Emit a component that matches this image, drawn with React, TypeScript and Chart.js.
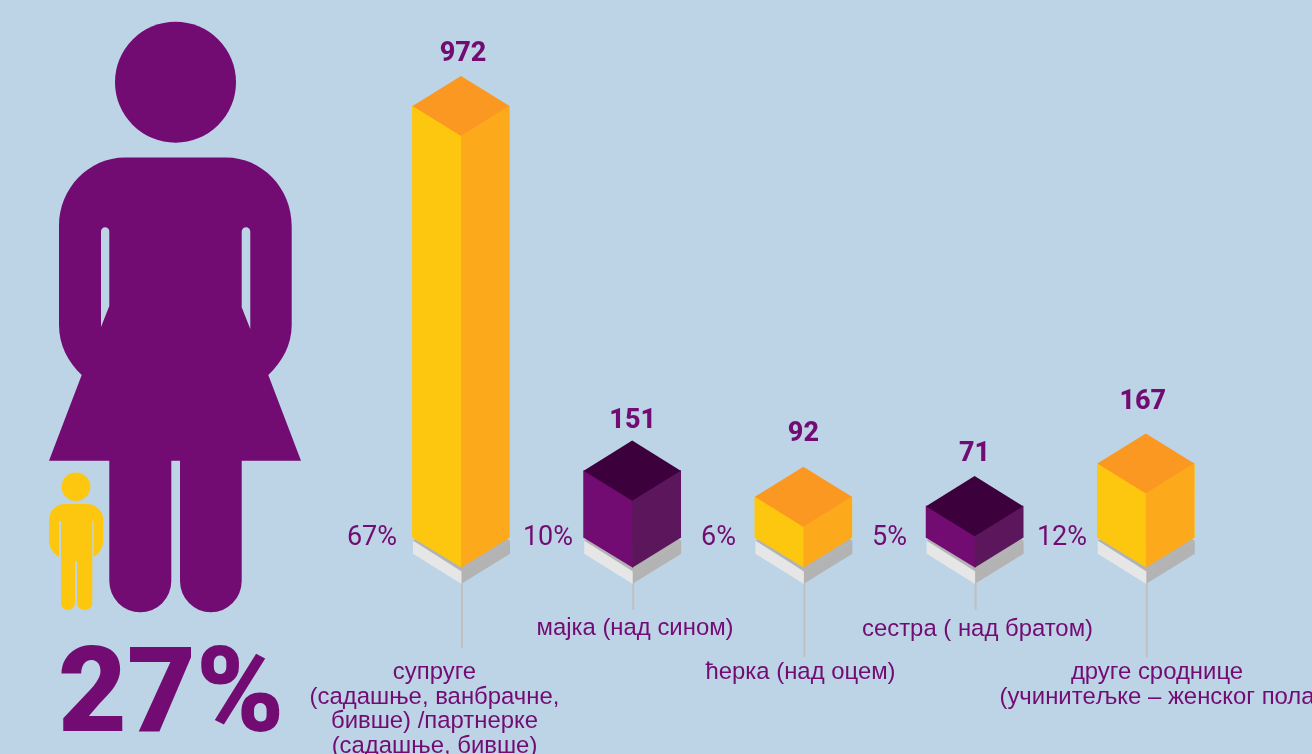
import React, { useEffect, useRef } from "react";
import { Chart, registerables } from "chart.js";

Chart.register(...registerables);

const categories = ["супруге", "мајка", "ћерка", "сестра", "друге сроднице"];
const counts = [972, 151, 92, 71, 167];
const percents = ["67%", "10%", "6%", "5%", "12%"];
const tones = ["amber", "plum", "amber", "plum", "amber"];
const categoryLines = [
  ["супруге", "(садашње, ванбрачне,", "бивше) /партнерке", "(садашње, бивше)"],
  ["мајка (над сином)"],
  ["ћерка (над оцем)"],
  ["сестра ( над братом)"],
  ["друге сроднице", "(учинитељке – женског пола)"],
];
const headline = "27%";

const palette: Record<string, { left: string; right: string; top: string }> = {
  amber: { left: "#FDC70F", right: "#FDA91C", top: "#FB9821" },
  plum: { left: "#720B72", right: "#5B165C", top: "#3C003C" },
};
const INK = "#720B72";
const BG = "#BDD4E7";

// label placement (layout only)
const valueLabelLift = [15, 13, 26, 15, 24];
const valueLabelShift = [2, 0.5, 0, 0, -3];
const pctRight = [397, 573, 736, 907, 1087];
const stemEnd = [648, 610, 657, 610, 657];
const catCenter = [434.5, 635, 800.5, 977.5, 1157];
const catBaseline = [679, 635, 679, 636, 679];
const catLineShift = [[0, 0, 0, 0], [0], [0], [0], [0, 4]];

const womanBody = new Path2D(
  "M125 157.5 H226 C262 157.5 291.7 188 291.7 226 V325 C291.7 345 282 362 268.3 375 L301 460.7 H241.7 V581 A30.85 31.3 0 0 1 180 581 V460.7 H171.3 V581 A31 31.3 0 0 1 109.3 581 V460.7 H49 L81.7 375 C68 362 59 345 59 325 V226 C59 188 89 157.5 125 157.5 Z" +
    " M101 231.5 V327 L109.3 306 V231.5 A4.15 4.15 0 0 0 101 231.5 Z" +
    " M241.7 231.5 V307.3 L250.3 329 V231.5 A4.3 4.3 0 0 0 241.7 231.5 Z"
);
const childBody = new Path2D(
  "M65 504 H87 C96 504 103.3 511 103.3 520 V540 C103.3 548 99 554 93.7 556.7 V521 H92.3 V603 A7.6 7 0 0 1 77 603 V561 H75 V603 A7 7 0 0 1 61 603 V521 H59 V556.7 C53.5 554 49 548 49 540 V520 C49 511 56 504 65 504 Z"
);

function poly(ctx: CanvasRenderingContext2D, pts: number[][], fill: string) {
  ctx.beginPath();
  pts.forEach((p, i) => (i ? ctx.lineTo(p[0], p[1]) : ctx.moveTo(p[0], p[1])));
  ctx.closePath();
  ctx.fillStyle = fill;
  ctx.fill();
}

const isoBarsPlugin = {
  id: "isoBars",
  beforeDatasetsDraw(chart: any) {
    const ctx: CanvasRenderingContext2D = chart.ctx;
    ctx.save();
    // pictograms
    ctx.fillStyle = INK;
    ctx.beginPath();
    ctx.arc(175.5, 82.2, 60.5, 0, Math.PI * 2);
    ctx.fill();
    ctx.fill(womanBody, "evenodd");
    ctx.fillStyle = palette.amber.left;
    ctx.beginPath();
    ctx.arc(76, 486.7, 14.3, 0, Math.PI * 2);
    ctx.fill();
    ctx.fill(childBody);
    // plinths and stems
    chart.getDatasetMeta(0).data.forEach((el: any, i: number) => {
      const h = el.width / 2;
      const cx = el.x + 0.5;
      const b = el.base;
      const d = h * 0.635;
      ctx.fillStyle = "#C0C0C0";
      ctx.fillRect(el.x, b + 44, 2, stemEnd[i] - b - 44);
      poly(ctx, [[cx - h, b + 3], [cx, b + 3 - d], [cx + h, b + 3], [cx, b + 3 + d]], "#B3B3B3");
      poly(ctx, [[cx - 0.5, b + 3 + d], [cx + h, b + 3], [cx + h, b + 16], [cx - 0.5, b + 16 + d - 0.5]], "#B3B3B3");
      poly(ctx, [[cx - h, b + 3], [cx, b + 3 + d], [cx, b + 16 + d - 0.5], [cx - h, b + 16]], "#E6E6E6");
    });
    ctx.restore();
  },
  afterDatasetsDraw(chart: any) {
    const ctx: CanvasRenderingContext2D = chart.ctx;
    ctx.save();
    chart.getDatasetMeta(0).data.forEach((el: any, i: number) => {
      const c = palette[tones[i]];
      const h = el.width / 2;
      const d = h * 0.62;
      const { x, y, base } = el;
      poly(ctx, [[x - h, y], [x + 0.7, y + d], [x + 0.7, base + d], [x - h, base]], c.left);
      poly(ctx, [[x, y + d], [x + h, y], [x + h, base], [x, base + d]], c.right);
      poly(ctx, [[x - h, y], [x, y - d], [x + h, y], [x, y + d]], c.top);

      ctx.fillStyle = INK;
      ctx.textBaseline = "alphabetic";
      ctx.textAlign = "center";
      ctx.font = "800 27px Roboto";
      ctx.fillText(String(counts[i]), x + valueLabelShift[i], y - d - valueLabelLift[i]);

      ctx.textAlign = "right";
      ctx.font = "400 27px Roboto";
      ctx.fillText(percents[i], pctRight[i], 545);

      ctx.textAlign = "center";
      ctx.font = '400 23.9px "Liberation Sans"';
      categoryLines[i].forEach((line, k) => {
        ctx.fillText(line, catCenter[i] + catLineShift[i][k], catBaseline[i] + k * 24.6);
      });
    });
    ctx.textAlign = "left";
    ctx.font = "900 119px Roboto";
    ctx.fillText(headline, 58, 731);
    ctx.restore();
  },
};

export default function App() {
  const ref = useRef<HTMLCanvasElement>(null);
  useEffect(() => {
    const chart = new Chart(ref.current as HTMLCanvasElement, {
      type: "bar",
      data: {
        labels: categories,
        datasets: [
          {
            data: counts,
            backgroundColor: tones.map((t) => palette[t].left),
            barThickness: 97,
            borderWidth: 0,
          },
        ],
      },
      options: {
        responsive: false,
        animation: false,
        layout: { padding: { left: 375.4, right: 80.6, top: 93.6, bottom: 216.3 } },
        scales: {
          x: { display: false },
          y: { display: false, min: 0, max: 1000 },
        },
        plugins: { legend: { display: false }, tooltip: { enabled: false } },
      },
      plugins: [isoBarsPlugin],
    } as any);
    return () => chart.destroy();
  }, []);
  return (
    <div
      style={{
        position: "fixed",
        left: 0,
        top: 0,
        width: 1312,
        height: 754,
        background: BG,
        overflow: "hidden",
      }}
    >
      <canvas ref={ref} width={1312} height={754} style={{ display: "block" }} />
    </div>
  );
}
